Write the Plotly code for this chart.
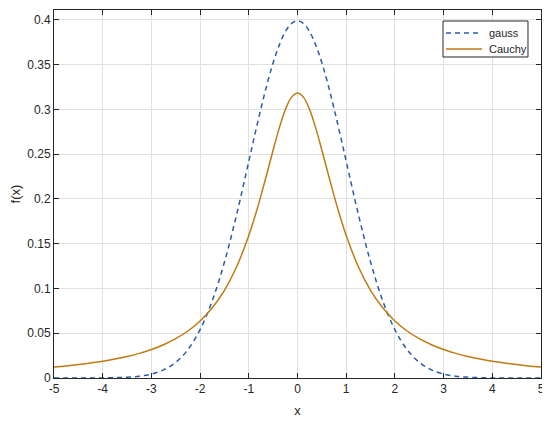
import plotly.graph_objects as go

x_vals = [-5, -4.75, -4.5, -4.25, -4, -3.75, -3.5, -3.25, -3, -2.75, -2.5, -2.25, -2, -1.75, -1.5, -1.25,
          -1, -0.875, -0.75, -0.625, -0.5, -0.375, -0.25, -0.125,
          0, 0.125, 0.25, 0.375, 0.5, 0.625, 0.75, 0.875, 1,
          1.25, 1.5, 1.75, 2, 2.25, 2.5, 2.75, 3, 3.25, 3.5, 3.75, 4, 4.25, 4.5, 4.75, 5]
gauss_vals = [0.0000, 0.0000, 0.0000, 0.0000, 0.0001, 0.0004, 0.0009, 0.0020, 0.0044, 0.0091, 0.0175, 0.0317, 0.0540, 0.0863, 0.1295, 0.1826,
              0.2420, 0.2721, 0.3011, 0.3282, 0.3521, 0.3718, 0.3867, 0.3958,
              0.3989, 0.3958, 0.3867, 0.3718, 0.3521, 0.3282, 0.3011, 0.2721, 0.2420,
              0.1826, 0.1295, 0.0863, 0.0540, 0.0317, 0.0175, 0.0091, 0.0044, 0.0020, 0.0009, 0.0004, 0.0001, 0.0000, 0.0000, 0.0000, 0.0000]
cauchy_vals = [0.0122, 0.0135, 0.0150, 0.0167, 0.0187, 0.0212, 0.0241, 0.0275, 0.0318, 0.0372, 0.0439, 0.0525, 0.0637, 0.0784, 0.0979, 0.1242,
               0.1592, 0.1803, 0.2037, 0.2289, 0.2546, 0.2791, 0.2996, 0.3134,
               0.3183, 0.3134, 0.2996, 0.2791, 0.2546, 0.2289, 0.2037, 0.1803, 0.1592,
               0.1242, 0.0979, 0.0784, 0.0637, 0.0525, 0.0439, 0.0372, 0.0318, 0.0275, 0.0241, 0.0212, 0.0187, 0.0167, 0.0150, 0.0135, 0.0122]
x_ticks = [-5, -4, -3, -2, -1, 0, 1, 2, 3, 4, 5]
x_tick_labels = ["-5", "-4", "-3", "-2", "-1", "0", "1", "2", "3", "4", "5"]
y_ticks = [0, 0.05, 0.1, 0.15, 0.2, 0.25, 0.3, 0.35, 0.4]
y_tick_labels = ["0", "0.05", "0.1", "0.15", "0.2", "0.25", "0.3", "0.35", "0.4"]
series_names = ["gauss", "Cauchy"]
series_colors = ["#2A5CAA", "#C07A12"]
series_dash = ["5px,4px", "solid"]

FONT = "Liberation Sans, Arial"
INK = "#262626"

fig = go.Figure()
fig.add_trace(go.Scatter(x=x_vals, y=gauss_vals, mode="lines", name=series_names[0],
                         line=dict(color=series_colors[0], width=1.5, dash=series_dash[0], shape="spline")))
fig.add_trace(go.Scatter(x=x_vals, y=cauchy_vals, mode="lines", name=series_names[1],
                         line=dict(color=series_colors[1], width=1.5, dash=series_dash[1], shape="spline")))

axis_common = dict(showline=True, linecolor=INK, linewidth=1, mirror="ticks",
                   ticks="inside", ticklen=5, tickcolor=INK,
                   showgrid=True, gridcolor="#E0E0E0", gridwidth=1, zeroline=False,
                   automargin=False, ticklabeloverflow="allow",
                   tickfont=dict(family=FONT, size=12, color=INK))

# compact legend box (MATLAB style), in paper coordinates
shapes = [dict(type="rect", xref="paper", yref="paper", x0=0.7988, x1=0.9733, y0=0.8723, y1=0.9701,
               line=dict(color=INK, width=1), fillcolor="white", layer="above")]
annotations = []
leg_y = [0.9375, 0.894]
for name, col, dsh, yy in zip(series_names, series_colors, series_dash, leg_y):
    shapes.append(dict(type="line", xref="paper", yref="paper", x0=0.8049, x1=0.8789, y0=yy, y1=yy,
                       line=dict(color=col, width=1.5, dash=dsh), layer="above"))
    annotations.append(dict(xref="paper", yref="paper", x=0.8892, y=yy, text=name, showarrow=False,
                            xanchor="left", yanchor="middle", font=dict(family=FONT, size=11, color=INK)))

# page body adds an 8px offset, so the figure is sized to fill the remaining window
fig.update_layout(
    width=542, height=416,
    margin=dict(l=46, r=9, t=2, b=46),
    paper_bgcolor="white", plot_bgcolor="white",
    showlegend=False,
    shapes=shapes, annotations=annotations,
    xaxis=dict(range=[-5, 5], tickvals=x_ticks, ticktext=x_tick_labels,
               title=dict(text="x", font=dict(family=FONT, size=13, color=INK), standoff=10),
               **axis_common),
    yaxis=dict(range=[0, 0.411], tickvals=y_ticks, ticktext=y_tick_labels,
               title=dict(text="f(x)", font=dict(family=FONT, size=13, color=INK), standoff=7),
               **axis_common),
)

fig.write_html("out.html")
